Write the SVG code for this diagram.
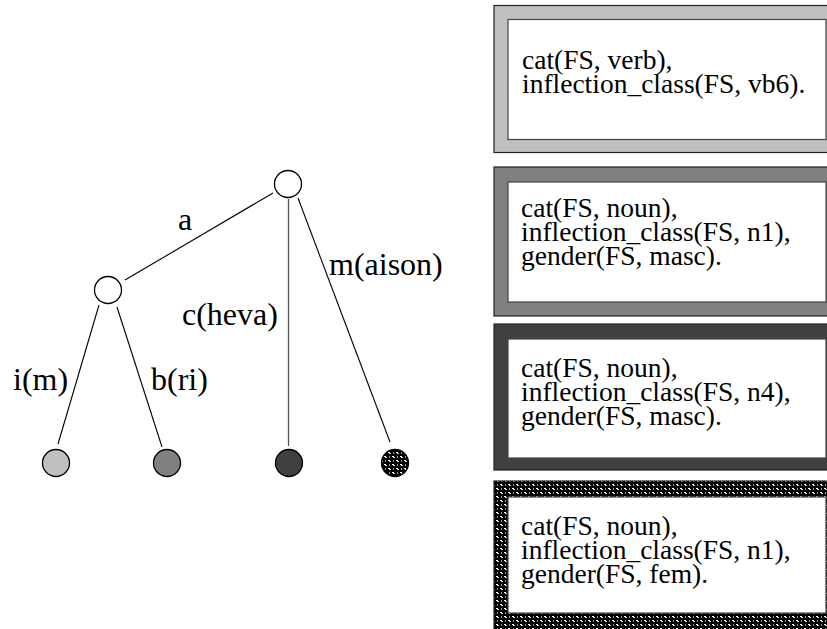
<svg xmlns="http://www.w3.org/2000/svg" width="827" height="629" viewBox="0 0 827 629">
  <style>
    text { font-family: 'Liberation Serif', 'DejaVu Serif', serif; fill: #000; }
    .lbl { font-size: 32px; }
    .fs { font-size: 27.5px; }
    .edge { stroke: #000; stroke-width: 1.1; fill: none; }
    .node { stroke: #000; stroke-width: 1.3; }
    .frame { stroke: #222; stroke-width: 1.2; }
    .inner { fill: #fff; stroke: #444; stroke-width: 1.2; }
  </style>
  <defs>
    <!-- woven black/white texture used for the fourth class -->
    <pattern id="weave" width="8" height="8" patternUnits="userSpaceOnUse">
      <rect width="8" height="8" fill="#000"/>
      <rect x="0" y="0" width="2" height="1" fill="#fff"/>
      <rect x="1" y="1" width="2" height="1" fill="#ccc"/>
      <rect x="4" y="4" width="2" height="1" fill="#fff"/>
      <rect x="5" y="5" width="2" height="1" fill="#ccc"/>
      <rect x="5" y="0" width="1" height="2" fill="#999"/>
      <rect x="1" y="4" width="1" height="2" fill="#999"/>
    </pattern>
  </defs>

  <!-- tree edges -->
  <g id="edges">
    <line class="edge" x1="273" y1="193" x2="125" y2="280"/>
    <line x1="288.5" y1="199" x2="288.5" y2="446" stroke="#555" stroke-width="1.3"/>
    <line class="edge" x1="298" y1="198" x2="390" y2="442"/>
    <line class="edge" x1="99" y1="305" x2="58" y2="444"/>
    <line class="edge" x1="117" y1="307" x2="162" y2="447"/>
  </g>

  <!-- edge labels -->
  <g id="edge-labels">
    <text class="lbl" x="178" y="230">a</text>
    <text class="lbl" x="182" y="325">c(heva)</text>
    <text class="lbl" x="329" y="275">m(aison)</text>
    <text class="lbl" x="13" y="390">i(m)</text>
    <text class="lbl" x="151" y="390">b(ri)</text>
  </g>

  <!-- tree nodes -->
  <g id="root"><circle class="node" cx="288" cy="184" r="13.5" fill="#fff"/></g>
  <g id="inner-a"><circle class="node" cx="108" cy="290" r="13.5" fill="#fff"/></g>
  <g id="leaf-im"><circle class="node" cx="56" cy="463" r="13.5" fill="#c0c0c0"/></g>
  <g id="leaf-bri"><circle class="node" cx="167" cy="463" r="13.5" fill="#808080"/></g>
  <g id="leaf-cheva"><circle class="node" cx="289" cy="463" r="13.5" fill="#404040"/></g>
  <g id="leaf-maison"><circle class="node" cx="395" cy="463" r="13.5" fill="url(#weave)"/></g>

  <!-- feature-structure boxes -->
  <g id="fs-verb">
    <rect class="frame" x="494" y="5.5" width="340" height="147" fill="#c0c0c0"/>
    <rect class="inner" x="508" y="19.5" width="318" height="120"/>
    <text class="fs" x="522" y="69">cat(FS, verb),</text>
    <text class="fs" x="522" y="93">inflection_class(FS, vb6).</text>
  </g>
  <g id="fs-noun-n1-masc">
    <rect class="frame" x="494" y="167" width="340" height="149" fill="#808080"/>
    <rect class="inner" x="508" y="182" width="318" height="120"/>
    <text class="fs" x="521" y="217">cat(FS, noun),</text>
    <text class="fs" x="521" y="241">inflection_class(FS, n1),</text>
    <text class="fs" x="521" y="265">gender(FS, masc).</text>
  </g>
  <g id="fs-noun-n4-masc">
    <rect class="frame" x="494" y="324" width="340" height="146" fill="#404040"/>
    <rect class="inner" x="508" y="339" width="318" height="119"/>
    <text class="fs" x="521" y="377">cat(FS, noun),</text>
    <text class="fs" x="521" y="401">inflection_class(FS, n4),</text>
    <text class="fs" x="521" y="425">gender(FS, masc).</text>
  </g>
  <g id="fs-noun-n1-fem">
    <rect class="frame" x="494" y="481" width="340" height="152" fill="url(#weave)"/>
    <rect class="inner" x="508" y="497" width="318" height="116"/>
    <text class="fs" x="521" y="535">cat(FS, noun),</text>
    <text class="fs" x="521" y="559">inflection_class(FS, n1),</text>
    <text class="fs" x="521" y="583">gender(FS, fem).</text>
  </g>
</svg>
